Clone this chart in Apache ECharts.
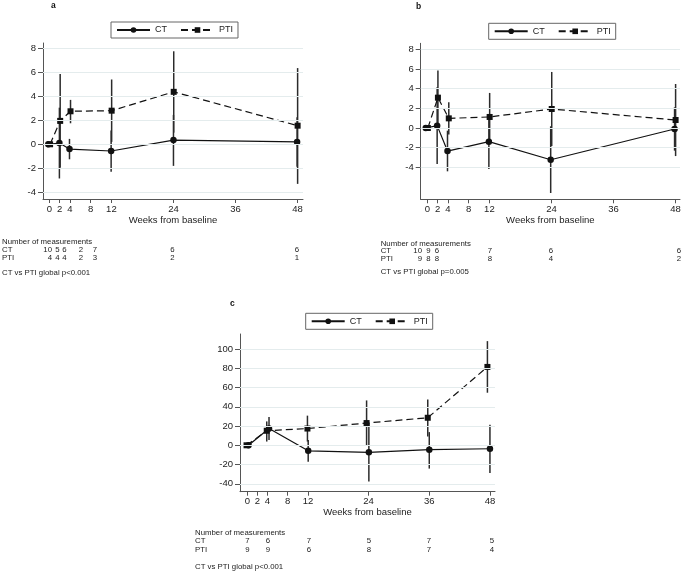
<!DOCTYPE html>
<html>
<head>
<meta charset="utf-8">
<script src="https://cdn.jsdelivr.net/npm/echarts@6/dist/echarts.min.js"></script>
<style>
  html, body { margin: 0; padding: 0; background: #fff; }
  #myChart { width: 686px; height: 575px; }
</style>
</head>
<body>
<div id="myChart"></div>
<script>
// tick labels
const weekTicks = [0, 2, 4, 8, 12, 24, 36, 48]
const yTicksA = [-4, -2, 0, 2, 4, 6, 8]
const yTicksB = [-4, -2, 0, 2, 4, 6, 8]
const yTicksC = [-40, -20, 0, 20, 40, 60, 80, 100]

// panel a
const ctWeeksA = [-0.2, 1.95, 3.9, 11.95, 24, 47.9]
const ctMeanA = [0, 0.1, -0.4, -0.56, 0.35, 0.2]
const ctLowA = [0, -2.85, -1.25, -2.28, -1.8, -1.87]
const ctHighA = [0, 3.05, 0.45, 1.14, 2.45, 2.26]
const ptiWeeksA = [0.15, 2.1, 4.1, 12.05, 24.05, 48]
const ptiMeanA = [0, 1.95, 2.75, 2.8, 4.37, 1.55]
const ptiLowA = [0, -1.95, 1.75, 0.2, 0.97, -3.3]
const ptiHighA = [0, 5.85, 3.7, 5.4, 7.75, 6.35]
const ctCountA = [10, 5, 6, 2, 7, 6, 6]
const ptiCountA = [4, 4, 4, 2, 3, 2, 1]

// panel b
const ctWeeksB = [-0.3, 1.9, 3.9, 11.9, 23.85, 47.8]
const ctMeanB = [0, 0.24, -2.34, -1.39, -3.22, -0.1]
const ctLowB = [0, -3.66, -4.4, -4.17, -6.6, -2.3]
const ctHighB = [0, 4.14, -0.27, 1.39, 0.17, 2.1]
const ptiWeeksB = [0.1, 2.05, 4.15, 12.05, 24.05, 48]
const ptiMeanB = [0, 3.08, 0.98, 1.12, 1.93, 0.81]
const ptiLowB = [0, 0.33, -0.65, -1.32, -1.83, -2.85]
const ptiHighB = [0, 5.83, 2.61, 3.56, 5.69, 4.47]
const ctCountB = [10, 9, 6, 7, 6, 6]
const ptiCountB = [9, 8, 8, 8, 4, 2]

// panel c
const ctWeeksC = [0.25, 4.3, 12.05, 24.05, 36, 48]
const ctMeanC = [0, 17.5, -5.7, -7.3, -4.6, -3.6]
const ctLowC = [0, 5.6, -17.2, -37.5, -24.2, -28.7]
const ctHighC = [0, 29.4, 5.6, 23.1, 13.7, 21.4]
const ptiWeeksC = [-0.15, 3.85, 11.9, 23.6, 35.7, 47.5]
const ptiMeanC = [0, 15.1, 17.4, 23.1, 28.6, 81.4]
const ptiLowC = [0, 3.9, 3.9, -0.35, 9.1, 54.6]
const ptiHighC = [0, 24.8, 30.8, 46.6, 47.6, 108.2]
const ctCountC = [7, 6, 7, 5, 7, 5]
const ptiCountC = [9, 9, 6, 8, 7, 4]

const pValueA = 'CT vs PTI global p<0.001'
const pValueB = 'CT vs PTI global p=0.005'
const pValueC = 'CT vs PTI global p<0.001'

const FONT = '"Liberation Sans", Arial, sans-serif'
const INK = '#111'

// layout of each panel (pixels)
const panels = [
  {
    letter: 'a', letterPos: [54, 6],
    grid: { left: 43, top: 43, width: 260, height: 156 },
    xRange: [-1.22, 49.04], yRange: [-4.56, 8.44], yTicks: yTicksA,
    legendPos: [111, 22], nameGap: 14,
    ct: [ctWeeksA, ctMeanA, ctLowA, ctHighA],
    pti: [ptiWeeksA, ptiMeanA, ptiLowA, ptiHighA],
    table: { x: 2, rows: [241.5, 250, 257.5, 272.5], cols: [52, 59.5, 66.5, 83, 97, 174.5, 299] },
    counts: [ctCountA, ptiCountA], pValue: pValueA
  },
  {
    letter: 'b', letterPos: [419, 6.7],
    grid: { left: 420.7, top: 43.3, width: 259.3, height: 156 },
    xRange: [-1.28, 48.85], yRange: [-7.24, 8.6], yTicks: yTicksB,
    legendPos: [488.7, 23.3], nameGap: 14.5,
    ct: [ctWeeksB, ctMeanB, ctLowB, ctHighB],
    pti: [ptiWeeksB, ptiMeanB, ptiLowB, ptiHighB],
    table: { x: 380.7, rows: [243.5, 251, 258.5, 272], cols: [422, 430.5, 439, 492, 553, 681] },
    counts: [ctCountB, ptiCountB], pValue: pValueB
  },
  {
    letter: 'c', letterPos: [233, 304],
    grid: { left: 240, top: 334, width: 255, height: 157.7 },
    xRange: [-1.44, 49.0], yRange: [-48.2, 115.6], yTicks: yTicksC,
    legendPos: [305.7, 313.3], nameGap: 13.5,
    ct: [ctWeeksC, ctMeanC, ctLowC, ctHighC],
    pti: [ptiWeeksC, ptiMeanC, ptiLowC, ptiHighC],
    table: { x: 195, rows: [532.5, 541, 549.5, 566.5], cols: [249.5, 270, 311, 371.2, 431, 494] },
    counts: [ctCountC, ptiCountC], pValue: pValueC
  }
]

function renderBar(params, api) {
  const top = api.coord([api.value(0), api.value(2)])
  const bottom = api.coord([api.value(0), api.value(1)])
  return {
    type: 'line',
    shape: { x1: top[0], y1: top[1], x2: bottom[0], y2: bottom[1] },
    style: { stroke: '#2b2b2b', lineWidth: 1.5 }
  }
}

function zipPoints(xs, ys) {
  return xs.map((x, i) => [x, ys[i]])
}

function zipBars(xs, lows, highs) {
  return xs.map((x, i) => [x, lows[i], highs[i]])
}

function buildOption() {
  const option = {
    animation: false,
    backgroundColor: '#fff',
    textStyle: { fontFamily: FONT },
    grid: [], xAxis: [], yAxis: [], legend: [], series: [], graphic: []
  }

  panels.forEach((p, idx) => {
    option.grid.push(Object.assign({ containLabel: false }, p.grid))

    option.xAxis.push({
      type: 'value',
      gridIndex: idx,
      min: p.xRange[0],
      max: p.xRange[1],
      name: 'Weeks from baseline',
      nameLocation: 'middle',
      nameGap: p.nameGap,
      nameTextStyle: { fontSize: 9.5, color: '#222', fontFamily: FONT },
      axisLine: { show: true, onZero: false, lineStyle: { color: '#555', width: 1 } },
      axisTick: { show: true, length: 4, customValues: weekTicks, lineStyle: { color: '#555' } },
      axisLabel: { customValues: weekTicks, fontSize: 9.5, color: '#222', margin: 5, fontFamily: FONT },
      splitLine: { show: false }
    })

    option.yAxis.push({
      type: 'value',
      gridIndex: idx,
      min: p.yRange[0],
      max: p.yRange[1],
      axisLine: { show: true, onZero: false, lineStyle: { color: '#555', width: 1 } },
      axisTick: { show: true, length: 5, customValues: p.yTicks, lineStyle: { color: '#555' } },
      axisLabel: { customValues: p.yTicks, fontSize: 9.5, color: '#222', margin: 7, fontFamily: FONT },
      splitLine: { show: false }
    })

    option.legend.push({
      left: p.legendPos[0],
      top: p.legendPos[1],
      data: ['CT', 'PTI'],
      orient: 'horizontal',
      padding: [3.5, 5, 3.5, 5],
      itemWidth: 33,
      itemHeight: 7,
      itemGap: 13,
      borderColor: '#666',
      borderWidth: 1,
      borderRadius: 0,
      backgroundColor: '#fff',
      selectedMode: false,
      textStyle: { fontSize: 9, color: '#222', fontFamily: FONT }
    })

    // faint horizontal gridlines + confidence intervals
    option.series.push({
      name: 'ct-ci-' + p.letter,
      type: 'custom',
      xAxisIndex: idx,
      yAxisIndex: idx,
      z: 1,
      renderItem: renderBar,
      encode: { x: 0, y: [1, 2] },
      data: zipBars(p.ct[0], p.ct[2], p.ct[3]),
      markLine: {
        silent: true,
        symbol: ['none', 'none'],
        label: { show: false },
        lineStyle: { color: '#e4eced', width: 1, type: 'solid' },
        data: p.yTicks.map(v => ({ yAxis: v }))
      }
    })
    option.series.push({
      name: 'pti-ci-' + p.letter,
      type: 'custom',
      xAxisIndex: idx,
      yAxisIndex: idx,
      z: 2,
      renderItem: renderBar,
      encode: { x: 0, y: [1, 2] },
      data: zipBars(p.pti[0], p.pti[2], p.pti[3])
    })

    option.series.push({
      name: 'CT',
      type: 'line',
      xAxisIndex: idx,
      yAxisIndex: idx,
      z: 3,
      symbol: 'circle',
      symbolSize: 6.5,
      color: INK,
      itemStyle: { color: INK },
      lineStyle: { color: INK, width: 1.2, type: 'solid' },
      data: zipPoints(p.ct[0], p.ct[1])
    })
    option.series.push({
      name: 'PTI',
      type: 'line',
      xAxisIndex: idx,
      yAxisIndex: idx,
      z: 3,
      symbol: 'rect',
      symbolSize: 6,
      color: INK,
      itemStyle: { color: INK },
      lineStyle: { color: INK, width: 1.2, type: [7, 4] },
      data: zipPoints(p.pti[0], p.pti[1])
    })

    // panel letter
    option.graphic.push({
      type: 'text', left: p.letterPos[0] - 3, top: p.letterPos[1] - 5,
      style: { text: p.letter, font: 'bold 8.5px ' + FONT, fill: '#111' }
    })

    // measurement table
    const t = p.table
    const small = '7.8px ' + FONT
    option.graphic.push({
      type: 'text', x: t.x, y: t.rows[0],
      style: { text: 'Number of measurements', font: small, fill: '#222', verticalAlign: 'middle' }
    })
    ;['CT', 'PTI'].forEach((label, r) => {
      option.graphic.push({
        type: 'text', x: t.x, y: t.rows[r + 1],
        style: { text: label, font: small, fill: '#222', verticalAlign: 'middle' }
      })
      p.counts[r].forEach((n, c) => {
        option.graphic.push({
          type: 'text', x: t.cols[c], y: t.rows[r + 1],
          style: { text: String(n), font: small, fill: '#222', align: 'right', verticalAlign: 'middle' }
        })
      })
    })
    option.graphic.push({
      type: 'text', x: t.x, y: t.rows[3],
      style: { text: p.pValue, font: small, fill: '#222', verticalAlign: 'middle' }
    })
  })

  return option
}

const chart = echarts.init(document.getElementById('myChart'))
chart.setOption(buildOption())
</script>
</body>
</html>
